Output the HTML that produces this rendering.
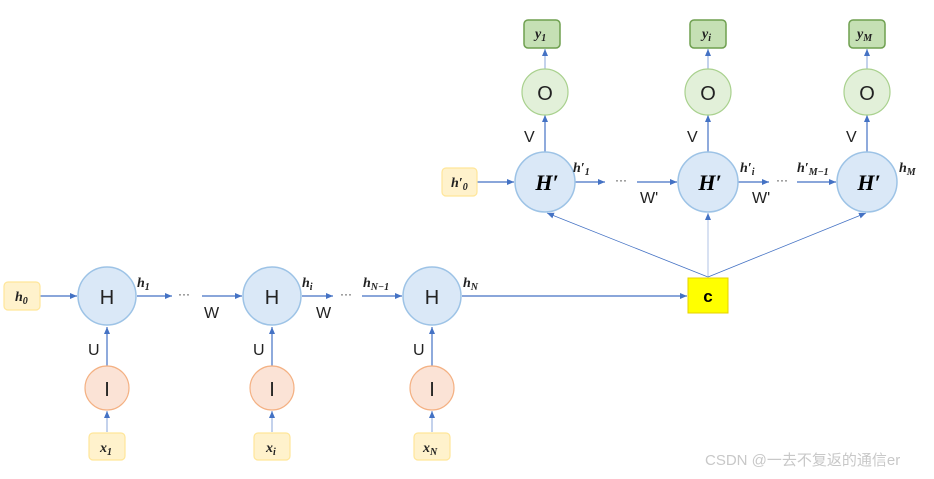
<!DOCTYPE html>
<html><head><meta charset="utf-8"><style>
body{margin:0;background:#fff;width:934px;height:474px;overflow:hidden}
svg text{font-family:"Liberation Sans",sans-serif}
svg .m text{font-family:"Liberation Serif",serif;font-style:italic;font-weight:bold}
</style></head><body>
<svg width="934" height="474" viewBox="0 0 934 474" xmlns="http://www.w3.org/2000/svg">
<defs><marker id="a" markerWidth="8" markerHeight="8" refX="7" refY="4" orient="auto" markerUnits="userSpaceOnUse"><path d="M0,1 L7,4 L0,7z" fill="#4472c4"/></marker></defs>
<g stroke="#4472c4" stroke-width="1.2" fill="none" marker-end="url(#a)">
<line x1="40" y1="296" x2="77" y2="296"/>
<line x1="137" y1="296" x2="172" y2="296"/>
<line x1="202" y1="296" x2="242" y2="296"/>
<line x1="302" y1="296" x2="333" y2="296"/>
<line x1="362" y1="296" x2="402" y2="296"/>
<line x1="462" y1="296" x2="687" y2="296"/>
<line x1="107" y1="366" x2="107" y2="327"/>
<line x1="272" y1="366" x2="272" y2="327"/>
<line x1="432" y1="366" x2="432" y2="327"/>
<line x1="107" y1="432" x2="107" y2="411" stroke="#9db4e0"/>
<line x1="272" y1="432" x2="272" y2="411" stroke="#9db4e0"/>
<line x1="432" y1="432" x2="432" y2="411" stroke="#9db4e0"/>
<line x1="477" y1="182" x2="514" y2="182"/>
<line x1="575" y1="182" x2="605" y2="182"/>
<line x1="637" y1="182" x2="677" y2="182"/>
<line x1="738" y1="182" x2="769" y2="182"/>
<line x1="797" y1="182" x2="836" y2="182"/>
<line x1="545" y1="152" x2="545" y2="115"/>
<line x1="708" y1="152" x2="708" y2="115"/>
<line x1="867" y1="152" x2="867" y2="115"/>
<line x1="545" y1="69" x2="545" y2="49" stroke="#9db4e0"/>
<line x1="708" y1="69" x2="708" y2="49" stroke="#9db4e0"/>
<line x1="867" y1="69" x2="867" y2="49" stroke="#9db4e0"/>
<line x1="708" y1="277" x2="547" y2="213" stroke-width="0.8"/>
<line x1="708" y1="277" x2="708" y2="213" stroke-width="0.8" stroke="#9db4e0"/>
<line x1="708" y1="277" x2="866" y2="213" stroke-width="0.8"/>
</g>
<g fill="#dae8f7" stroke="#9dc3e6" stroke-width="1.5">
<circle cx="107" cy="296" r="29"/><circle cx="272" cy="296" r="29"/><circle cx="432" cy="296" r="29"/>
<circle cx="545" cy="182" r="30"/><circle cx="708" cy="182" r="30"/><circle cx="867" cy="182" r="30"/>
</g>
<g fill="#fbe3d6" stroke="#f4b183" stroke-width="1.2">
<circle cx="107" cy="388" r="22"/><circle cx="272" cy="388" r="22"/><circle cx="432" cy="388" r="22"/>
</g>
<g fill="#e2f0d9" stroke="#a9d18e" stroke-width="1.2">
<circle cx="545" cy="92" r="23"/><circle cx="708" cy="92" r="23"/><circle cx="867" cy="92" r="23"/>
</g>
<g fill="#fff2cc" stroke="#ffe699" stroke-width="1.2">
<rect x="4" y="282" width="36" height="28" rx="4"/>
<rect x="89" y="433" width="36" height="27" rx="4"/><rect x="254" y="433" width="36" height="27" rx="4"/><rect x="414" y="433" width="36" height="27" rx="4"/>
<rect x="442" y="168" width="35" height="28" rx="4"/>
</g>
<g fill="#c5e0b4" stroke="#6e9f4f" stroke-width="1.5">
<rect x="524" y="20" width="36" height="28" rx="4"/><rect x="690" y="20" width="36" height="28" rx="4"/><rect x="849" y="20" width="36" height="28" rx="4"/>
</g>
<rect x="688" y="278" width="40" height="35" fill="#ffff00" stroke="#e6d200"/>
<text x="708" y="302" font-size="17" font-weight="bold" text-anchor="middle">c</text>
<g font-size="20" text-anchor="middle" fill="#222">
<text x="107" y="304">H</text><text x="272" y="304">H</text><text x="432" y="304">H</text>
<text x="107" y="396">I</text><text x="272" y="396">I</text><text x="432" y="396">I</text>
<text x="545" y="100">O</text><text x="708" y="100">O</text><text x="867" y="100">O</text>
</g>
<g class="m" font-size="22" text-anchor="middle">
<text x="547" y="190">H′</text><text x="710" y="190">H′</text><text x="869" y="190">H′</text>
</g>
<g font-size="16" fill="#222">
<text x="88" y="355">U</text><text x="253" y="355">U</text><text x="413" y="355">U</text>
<text x="204" y="318">W</text><text x="316" y="318">W</text>
<text x="524" y="142">V</text><text x="687" y="142">V</text><text x="846" y="142">V</text>
<text x="640" y="203">W'</text><text x="752" y="203">W'</text>
</g>
<g font-size="12" fill="#333"><text x="178" y="298">···</text><text x="340" y="298">···</text><text x="615" y="184">···</text><text x="776" y="184">···</text></g>
<g class="m" font-size="14" fill="#222">
<text x="15" y="301">h<tspan font-size="10" dy="3">0</tspan></text>
<text x="137" y="287">h<tspan font-size="10" dy="3">1</tspan></text>
<text x="302" y="287">h<tspan font-size="10" dy="3">i</tspan></text>
<text x="363" y="287">h<tspan font-size="10" dy="3">N−1</tspan></text>
<text x="463" y="287">h<tspan font-size="10" dy="3">N</tspan></text>
<text x="100" y="452">x<tspan font-size="10" dy="3">1</tspan></text>
<text x="266" y="452">x<tspan font-size="10" dy="3">i</tspan></text>
<text x="423" y="452">x<tspan font-size="10" dy="3">N</tspan></text>
<text x="451" y="187">h′<tspan font-size="10" dy="3">0</tspan></text>
<text x="573" y="172">h′<tspan font-size="10" dy="3">1</tspan></text>
<text x="740" y="172">h′<tspan font-size="10" dy="3">i</tspan></text>
<text x="797" y="172">h′<tspan font-size="10" dy="3">M−1</tspan></text>
<text x="899" y="172">h<tspan font-size="10" dy="3">M</tspan></text>
<text x="535" y="38">y<tspan font-size="10" dy="3">1</tspan></text>
<text x="702" y="38">y<tspan font-size="10" dy="3">i</tspan></text>
<text x="857" y="38">y<tspan font-size="10" dy="3">M</tspan></text>
</g>
<text x="705" y="465" font-size="15" fill="#c8c8c8" font-family="Liberation Sans, Noto Sans CJK SC, sans-serif">CSDN @一去不复返的通信er</text>
</svg>
</body></html>
